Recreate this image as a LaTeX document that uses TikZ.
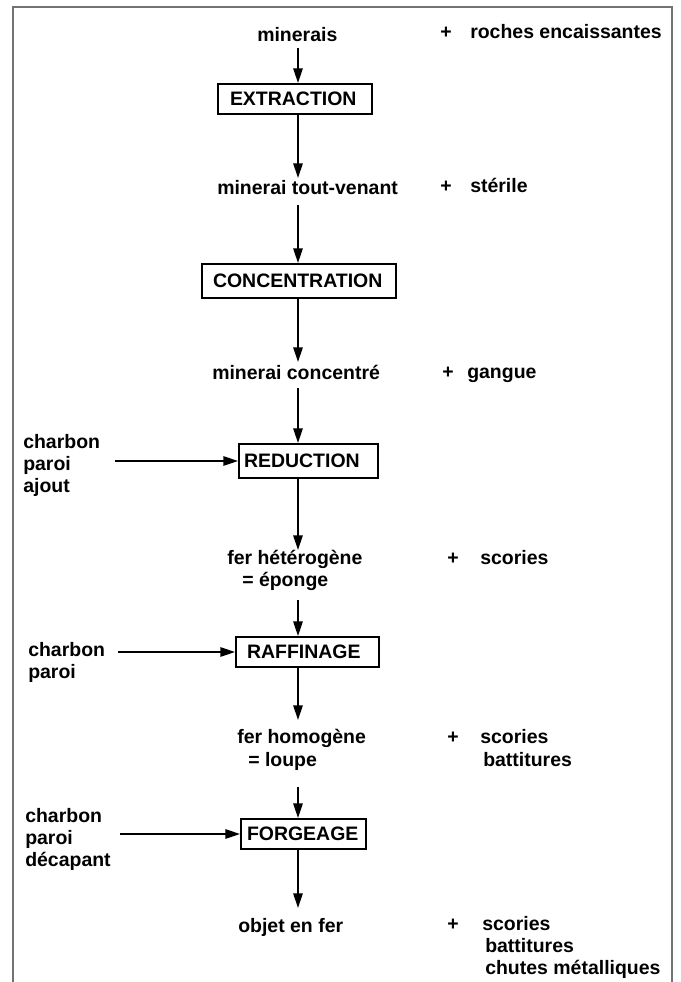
\documentclass[tikz,border=0pt]{standalone}
\usepackage{fontspec}
\setmainfont{Liberation Sans}
\usetikzlibrary{arrows.meta,calc}
\begin{document}
\begin{tikzpicture}[x=0.75pt,y=-0.75pt,
  every node/.style={font=\fontsize{14.6}{17}\selectfont\bfseries, inner sep=0pt},
  txt/.style={anchor=base west},
  plus/.style={anchor=base},
  proc/.style={draw, line width=1.4pt, inner sep=0pt},
  arr/.style={line width=1.4pt, -{Triangle[length=11pt,width=7pt]}},
  frame/.style={draw=black!55, line width=1.1pt}]
\useasboundingbox (0,0) rectangle (681,982);
\draw[frame] (13,982) -- (13,7) -- (672,7) -- (672,982);
\coordinate (axis) at (298,0);

% main column texts
\node[txt] (minerais) at (257,41) {minerais};
\node[txt] (tv) at (217,194) {minerai tout-venant};
\node[txt] (mc) at (212,379) {minerai concentré};
\node[txt] (fh) at (227,564) {fer hétérogène};
\node[txt] (ep) at (242,586) {= éponge};
\node[txt] (fhom) at (237,743) {fer homogène};
\node[txt] (loupe) at (248,766) {= loupe};
\node[txt] (objet) at (238,932) {objet en fer};

% process boxes
\node[proc, minimum height=22.5pt] (ext) at (295,99) {\makebox[115.5pt][l]{\hspace{9pt}EXTRACTION}};
\node[proc, minimum height=25.5pt] (conc) at (299,281) {\makebox[145.5pt][l]{\hspace{8.25pt}CONCENTRATION}};
\node[proc, minimum height=25.5pt] (red) at (308.5,461) {\makebox[104.25pt][l]{\hspace{3.75pt}REDUCTION}};
\node[proc, minimum height=22.5pt] (raff) at (307.5,652) {\makebox[107.25pt][l]{\hspace{8.25pt}RAFFINAGE}};
\node[proc, minimum height=22.5pt] (forg) at (303.5,834) {\makebox[93.75pt][l]{\hspace{4.5pt}FORGEAGE}};

% right column
\node[plus] (pl1) at (446,38) {+};
\node[txt] (roches) at (470,38) {roches encaissantes};
\node[plus] (pl2) at (446,192) {+};
\node[txt] (sterile) at (470,192) {stérile};
\node[plus] (pl3) at (448,378) {+};
\node[txt] (gangue) at (467,378) {gangue};
\node[plus] (pl4) at (453,564) {+};
\node[txt] (sc1) at (480,564) {scories};
\node[plus] (pl5) at (453,743) {+};
\node[txt] (sc2) at (480,743) {scories};
\node[txt] (bat2) at (483,766) {battitures};
\node[plus] (pl6) at (453,930) {+};
\node[txt] (sc3) at (482,930) {scories};
\node[txt] (bat3) at (485,952) {battitures};
\node[txt] (chutes) at (485,974) {chutes métalliques};

% left inputs
\node[txt] (ch1) at (23,448) {charbon};
\node[txt] (pa1) at (23,470) {paroi};
\node[txt] (aj1) at (23,492) {ajout};
\node[txt] (ch2) at (28,656) {charbon};
\node[txt] (pa2) at (28,678) {paroi};
\node[txt] (ch3) at (25,822) {charbon};
\node[txt] (pa3) at (25,844) {paroi};
\node[txt] (dec3) at (25,866) {décapant};

\coordinate (in1) at (115,461);
\coordinate (in2) at (118,652);
\coordinate (in3) at (120,834);
\draw[arr] (in1) -- (red.west);
\draw[arr] (in2) -- (raff.west);
\draw[arr] (in3) -- (forg.west);

% vertical flow
\draw[arr] ($(minerais.base -| axis)+(0,7)$) -- (ext.north -| axis);
\draw[arr] (ext.south -| axis) -- ($(tv.base -| axis)+(0,-16)$);
\draw[arr] ($(tv.base -| axis)+(0,11)$) -- (conc.north -| axis);
\draw[arr] (conc.south -| axis) -- ($(mc.base -| axis)+(0,-17)$);
\draw[arr] ($(mc.base -| axis)+(0,9)$) -- (red.north -| axis);
\draw[arr] (red.south -| axis) -- ($(fh.base -| axis)+(0,-14)$);
\draw[arr] ($(ep.base -| axis)+(0,14)$) -- (raff.north -| axis);
\draw[arr] (raff.south -| axis) -- ($(fhom.base -| axis)+(0,-23)$);
\draw[arr] ($(loupe.base -| axis)+(0,21)$) -- (forg.north -| axis);
\draw[arr] (forg.south -| axis) -- ($(objet.base -| axis)+(0,-24)$);
\end{tikzpicture}
\end{document}
